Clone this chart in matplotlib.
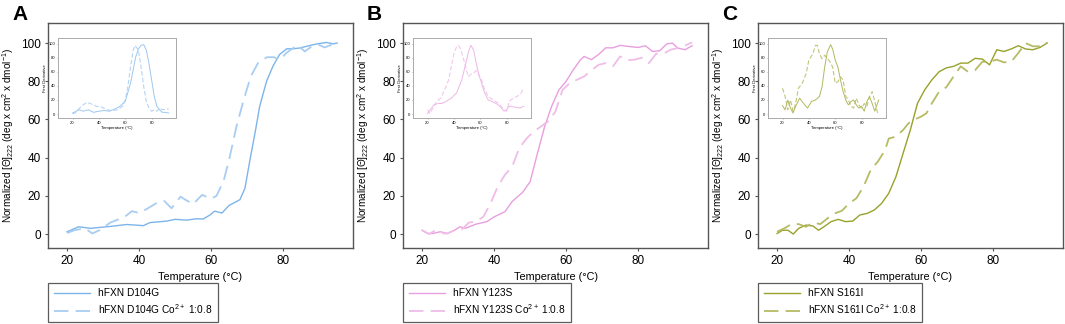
import matplotlib
matplotlib.use("Agg")
import matplotlib.pyplot as plt

plt.rcParams['font.family'] = ['Liberation Sans', 'DejaVu Sans']
plt.rcParams['mathtext.fontset'] = 'custom'
plt.rcParams['mathtext.rm'] = 'Liberation Sans'
plt.rcParams['mathtext.it'] = 'Liberation Sans:italic'
plt.rcParams['mathtext.bf'] = 'Liberation Sans:bold'
plt.rcParams['mathtext.default'] = 'rm'

# ---- Panel A : hFXN D104G ----
a_t = [20, 23.2, 26.5, 29.2, 32, 36.6, 41.2, 43, 47.7, 50, 53.2, 56, 57.8, 59.7, 61, 63, 65, 68,
       69.4, 70.8, 72.2, 73.5, 75.4, 77.2, 79, 81, 82.8, 84.6, 86.5, 89.2, 92, 93.9, 95]
a_apo = [1.2, 3.8, 3, 3.5, 4, 5, 4.4, 6, 6.8, 7.7, 7.3, 8, 7.9, 10, 12, 11, 15, 18,
         24, 39, 53, 67, 80, 88, 94, 97, 97, 97.4, 98.3, 99.5, 100.3, 99.6, 100]
a_co_t = [20, 22, 25, 27, 29, 32, 36, 38, 40, 42, 45, 47, 49, 51.5, 53, 55, 57.5, 60, 61.5, 63.5,
          65, 67, 69, 71, 73, 75.5, 77.5, 79, 81, 84, 86, 88, 90, 91.5, 94, 95]
a_co = [0.5, 2, 3, 0.3, 2, 6, 9, 12, 11, 13, 16.4, 17.3, 13.5, 19.6, 17.8, 15.7, 20.5, 18.5, 20, 28,
        39, 56, 70, 82.5, 89.5, 92.6, 92.6, 91, 95, 99, 95.6, 98.3, 99, 97.7, 99.5, 100]
a_d_t = [20, 25, 28, 32, 36, 40, 44, 48, 52, 56, 60, 64, 66, 68, 70, 72, 74, 76, 78, 80, 82, 84,
         86, 88, 90, 93]
a_d_apo = [1.4, 6, 4, 6, 2.4, 4, 5, 4, 7, 11, 18, 44, 63, 82, 93, 98, 99, 91, 72, 48.6, 25, 11,
           6, 2.4, 2.4, 1.4]
a_d_co_t = [20, 22, 24, 28, 31, 34, 38, 42, 46, 50, 54, 58, 60, 62, 64, 66, 67.5, 70, 72, 74, 76,
            78, 80, 82, 84, 86, 88, 91, 93]
a_d_co = [0.5, 1.4, 6, 13, 16.5, 14.6, 11, 10, 6, 5, 6, 11, 20, 39, 67, 91, 98, 91, 67, 39, 18,
          8.5, 4, 6, 4, 8.5, 6, 7, 7]

# ---- Panel B : hFXN Y123S ----
b_t = [20, 21.5, 23, 25, 27, 29, 30.5, 32, 35, 38, 40, 43, 45, 48, 50, 52, 54, 56, 58, 60, 62,
       64, 65, 67, 69, 71, 73, 75, 77, 80, 82, 84, 86, 88, 89.5, 91, 93, 95]
b_apo = [2, 0.3, 0.3, 1.2, 0.3, 2, 3.8, 3, 5.2, 6.5, 9, 11.7, 17, 22, 27.4, 42, 56, 67, 75.5, 80,
         86, 91.3, 93, 91.3, 94, 97.5, 97.5, 98.8, 98.3, 97.7, 98.6, 95.6, 96, 99.6, 100, 97.4,
         96.5, 98.6]
b_co_t = [20, 22, 24, 26, 27, 29, 31, 33, 35, 37, 39, 41, 43, 45, 47, 49, 51, 53, 55, 57, 59, 61,
          63, 65, 67, 69, 71, 73, 75, 77, 79, 81, 83, 85, 87, 89, 91, 93, 94, 95]
b_co = [2, 0, 2.4, 0.3, 0.3, 2, 2.4, 6, 6.6, 9, 16, 24.8, 31, 35.3, 45, 50, 53.7, 56.3, 59, 64,
        75.5, 79, 80.8, 82.5, 85.7, 88.6, 89.5, 87.8, 93, 91, 91.3, 92.3, 89.5, 94.4, 94.4, 96.5,
        97.4, 98.6, 99.6, 100.3]
b_d_t = [20, 22, 25, 28, 31, 34, 38, 42, 46, 49, 51, 53, 55, 57, 59, 61, 63, 66, 69, 72, 75, 78,
         80, 82, 86, 90, 93]
b_d_apo = [0.5, 6, 13, 15, 15, 18, 22.6, 30, 48.6, 72, 88.7, 98, 91, 72, 55.7, 44, 32, 20, 18,
           15, 11, 4, 6, 11, 10, 8.5, 11]
b_d_co_t = [20, 22, 24, 27, 30, 33, 36, 38, 40, 42, 43.5, 45, 47, 49, 51, 53, 55, 57, 59, 61, 63,
            66, 70, 74, 78, 80, 82, 85, 88, 91, 93]
b_d_co = [6, 0.5, 8.5, 18, 22.6, 34.4, 48.6, 67, 86, 95.7, 98, 93, 81, 67, 53, 57, 58.5, 62,
          55.7, 48.6, 36.8, 25, 20, 15, 6, 4, 18, 22.6, 25, 30, 36.8]

# ---- Panel C : hFXN S161I ----
c_t = [20, 21.5, 23, 24.5, 26, 28, 30, 31.5, 33, 35, 37, 39, 41, 43, 45, 47, 49, 51, 53, 55, 57,
       59, 61, 63, 65, 67, 69, 71, 73, 75, 77, 79, 81, 83, 85, 87, 89, 91, 93, 95]
c_apo = [0.3, 2, 2, 0, 3, 4.7, 4.2, 2, 3.8, 6.5, 7.7, 6.5, 6.8, 10, 10.8, 12.6, 16, 21.3, 30,
         42.3, 54.5, 68.5, 75.5, 80.8, 85, 87, 87.8, 89.5, 89.5, 92, 91.6, 88.6, 96.5, 95.6, 96.9,
         98.6, 96.9, 96.5, 97.7, 100]
c_co_t = [20, 22, 24, 26, 28, 30, 32, 34, 36, 38, 40, 42, 44, 46, 48, 50, 51, 53, 55, 56.5, 58,
          60, 61.5, 63, 65, 67, 69, 71, 73, 75, 77, 79, 81, 83, 85, 87, 89, 91, 93, 95]
c_co = [1.2, 3, 5.2, 5.2, 3.8, 6, 5.2, 8.2, 10.8, 12.2, 16, 18.7, 24.8, 33.6, 38, 44, 50, 51,
        54.5, 58, 59.8, 61.5, 63.3, 68.5, 74.6, 76.9, 82.5, 87.8, 85, 85.8, 90.2, 90.2, 91.3, 89.9,
        90.2, 94.8, 100, 98.3, 98.3, 100.3]
c_d_t = [20, 22, 24, 26, 28, 30, 33, 36, 39, 42, 45, 48, 50, 52, 54, 56.5, 58, 60, 62, 64, 66,
         68, 70, 72, 74, 76, 78, 80, 82, 84, 86, 88, 90, 92, 93]
c_d_apo = [12, 6, 20, 8.5, 1.4, 11, 22.6, 15, 8.5, 18, 20, 25, 39, 67, 88.7, 99, 93, 77, 67,
           48.6, 32, 20, 13, 18, 20, 13, 8.5, 11, 4, 18, 25, 15, 4, 15, 20]
c_d_co_t = [20, 22, 24, 26, 28, 30, 32, 35, 38, 40, 43, 45, 46.5, 48, 50, 52, 54, 56, 58, 60, 62,
            64, 66, 68, 70, 72, 74, 76, 78, 80, 82, 84, 86, 88, 90, 92, 93]
c_d_co = [36.8, 25, 6, 20, 4, 15, 36.8, 44, 58, 77, 86, 98, 98, 86, 79, 84, 79, 74.5, 67, 44,
          46, 53, 48.6, 25, 20, 11, 8.5, 22.6, 13, 8.5, 15, 11, 25, 32, 18, 2.4, 1.4]

panels = [
    ("A", "hFXN D104G", "#7db5ea", "#a9cdf1",
     (a_t, a_apo), (a_co_t, a_co), (a_d_t, a_d_apo), (a_d_co_t, a_d_co)),
    ("B", "hFXN Y123S", "#e89fdf", "#efbde8",
     (b_t, b_apo), (b_co_t, b_co), (b_d_t, b_d_apo), (b_d_co_t, b_d_co)),
    ("C", "hFXN S161I", "#98a22a", "#b6bb64",
     (c_t, c_apo), (c_co_t, c_co), (c_d_t, c_d_apo), (c_d_co_t, c_d_co)),
]

fig = plt.figure(figsize=(10.65, 3.24), dpi=100)
W, H = 1065.0, 324.0
frame_col = "#555555"

for i, (letter, name, col, col_co, apo, co, d_apo, d_co) in enumerate(panels):
    x0 = 48 + 355 * i
    ax = fig.add_axes([x0 / W, 1 - 248 / H, 305 / W, 225 / H])
    ax.plot(apo[0], apo[1], color=col, lw=1.0, label=name)
    ax.plot(co[0], co[1], color=col_co, lw=1.3, dashes=(8, 4),
            label=name + r" Co$^{2+}$ 1:0.8")
    ax.set_xlim(14.7, 99.4)
    ax.set_ylim(-7.3, 110.5)
    ax.set_xticks([20, 40, 60, 80])
    ax.set_yticks([0, 20, 40, 60, 80, 100])
    ax.tick_params(labelsize=8.5, length=2, color=frame_col, pad=3)
    for s in ax.spines.values():
        s.set_color(frame_col)
        s.set_linewidth(1.0)
    ax.set_xlabel("Temperature (°C)", fontsize=7.8, labelpad=4)
    ax.set_ylabel(r"Normalized [Θ]$_{222}$ (deg x cm$^2$ x dmol$^{-1}$)", fontsize=7.2,
                  labelpad=4)
    leg = ax.legend(loc="upper left", bbox_to_anchor=(0, -0.155), borderaxespad=0,
                    fontsize=7.3, fancybox=False, edgecolor="#333333", handlelength=3.6,
                    handletextpad=0.8, borderpad=0.55, labelspacing=0.4)
    leg.get_frame().set_linewidth(0.9)
    fig.text((x0 - 36) / W, 1 - 15 / H, letter, fontsize=15, fontweight="bold",
             va="center", ha="left")

    # inset with first derivative
    ins = fig.add_axes([(x0 + 10) / W, 1 - 118 / H, 118 / W, 80 / H])
    ins.plot(d_apo[0], d_apo[1], color=col, lw=0.7, alpha=0.75)
    ins.plot(d_co[0], d_co[1], color=col_co, lw=0.8, dashes=(4, 2), alpha=0.85)
    ins.set_xlim(9, 98.5)
    ins.set_ylim(-5.7, 108.5)
    ins.set_xticks([20, 40, 60, 80])
    ins.set_yticks([0, 20, 40, 60, 80, 100])
    ins.tick_params(labelsize=3, length=1, width=0.4, pad=1, color="#777777")
    ins.set_xlabel("Temperature (°C)", fontsize=3, labelpad=1)
    ins.set_ylabel("First Derivative", fontsize=3, labelpad=1)
    for s in ins.spines.values():
        s.set_color("#aaaaaa")
        s.set_linewidth(0.7)

fig.savefig("out.png", dpi=100)
